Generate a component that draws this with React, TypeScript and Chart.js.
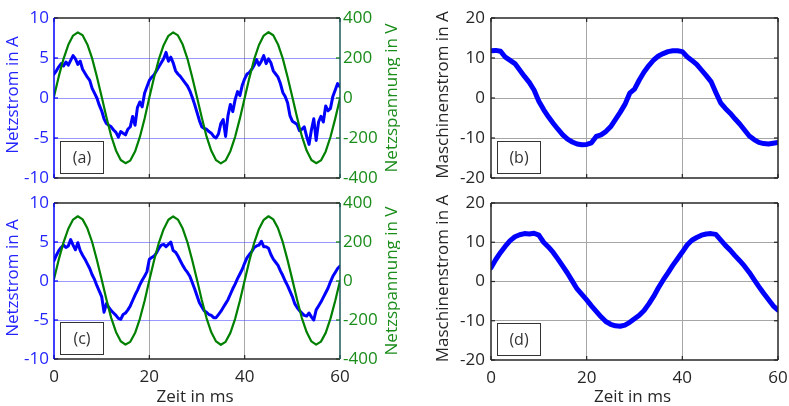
import React, { useEffect, useRef } from "react";
import { Chart, registerables } from "chart.js";

Chart.register(...registerables);

const FONT = "'Open Sans', 'Noto Sans', sans-serif";

// ---------- data ----------
const TIME_MIN = 0;
const TIME_MAX = 60;
const TIME_TICK_STEP = 20;
const FINE_STEP_MS = 0.5; // sampling of the Netzstrom traces
const COARSE_STEP_MS = 1; // sampling of voltage / Maschinenstrom traces

const NETZSTROM_TICK_STEP = 5;
const NETZSPANNUNG_TICK_STEP = 200;
const MASCHINENSTROM_TICK_STEP = 10;

// (a) Netzstrom in A, every 0.5 ms
const netzstromA = [
  3.0, 3.4, 3.9, 4.3, 4.0, 4.5, 4.1, 4.7, 5.3, 4.9,
  4.2, 4.6, 3.6, 3.1, 2.6, 2.2, 1.2, 0.6, 0.0, -0.9,
  -1.6, -2.6, -3.2, -3.4, -3.6, -4.0, -4.3, -4.9, -4.2, -4.4,
  -4.6, -3.9, -3.6, -2.3, -3.4, -1.2, -0.5, -1.1, 0.6, 1.4,
  2.2, 2.6, 2.9, 3.4, 3.9, 4.4, 4.9, 5.7, 4.6, 5.1,
  4.4, 3.4, 3.0, 2.7, 2.3, 1.9, 1.5, 0.9, 0.1, -0.8,
  -1.8, -2.8, -3.6, -3.8, -3.9, -4.2, -4.4, -4.8, -5.0, -4.5,
  -3.2, -2.7, -4.8, -2.2, -0.8, -1.7, -0.2, 0.8, 0.3, 1.6,
  2.4, 3.0, 3.2, 3.6, 4.1, 4.8, 4.1, 4.6, 5.3, 4.3,
  4.9, 4.4, 3.4, 3.0, 2.6, 1.8, 0.7, 0.2, -0.6, -2.2,
  -2.9, -3.1, -3.3, -4.1, -3.9, -3.6, -4.8, -5.8, -4.0, -2.6,
  -5.3, -3.0, -2.3, -3.0, -1.0, -1.6, -1.3, 0.2, 1.0, 1.8,
  1.4,
];

// (a) Netzspannung in V, every 1 ms
const netzspannungA = [
  8, 108, 196, 266, 312, 328, 314, 268, 198, 106,
  6, -96, -190, -262, -310, -326, -313, -268, -196, -104,
  2, 104, 194, 264, 311, 328, 313, 267, 196, 104,
  4, -98, -192, -264, -311, -327, -312, -266, -194, -102,
  0, 102, 194, 265, 312, 329, 314, 268, 197, 105,
  5, -97, -191, -263, -310, -326, -312, -267, -195, -103,
  -2,
];

// (c) Netzstrom in A, every 0.5 ms
const netzstromC = [
  2.6, 3.3, 3.9, 4.3, 4.6, 4.3, 4.5, 5.3, 4.6, 4.0,
  4.9, 3.9, 3.3, 2.8, 2.2, 1.6, 0.8, 0.2, -0.6, -1.3,
  -2.0, -4.0, -2.9, -3.4, -3.8, -4.1, -4.4, -4.8, -4.9, -4.3,
  -4.1, -3.7, -3.2, -2.5, -1.8, -1.2, -0.5, 0.1, 0.6, 1.2,
  2.8, 3.0, 3.2, 3.6, 4.2, 4.6, 4.7, 4.4, 4.7, 5.0,
  3.9, 3.7, 3.2, 2.6, 2.0, 1.5, 1.1, 0.6, -0.2, -1.0,
  -1.9, -2.8, -3.3, -3.8, -4.0, -4.3, -4.4, -4.7, -4.7, -4.3,
  -3.9, -3.4, -2.9, -2.4, -1.7, -1.0, -0.4, 0.3, 0.9, 1.5,
  2.3, 3.0, 3.4, 3.8, 4.3, 4.5, 4.6, 5.1, 4.4, 4.4,
  4.2, 3.4, 2.8, 2.4, 2.0, 1.3, 0.7, 0.0, -0.6, -1.3,
  -2.0, -2.9, -3.4, -3.8, -4.1, -4.4, -4.5, -4.1, -4.6, -5.0,
  -3.7, -3.2, -2.7, -2.1, -1.5, -0.9, -0.1, 0.6, 1.1, 1.6,
  1.9,
];

// (c) Netzspannung in V, every 1 ms
const netzspannungC = [
  10, 110, 198, 268, 315, 332, 316, 270, 200, 108,
  8, -95, -189, -261, -309, -326, -312, -267, -195, -103,
  4, 106, 196, 266, 314, 331, 315, 269, 198, 106,
  6, -97, -190, -263, -310, -327, -312, -266, -194, -101,
  3, 105, 196, 267, 314, 332, 316, 270, 199, 107,
  7, -96, -190, -262, -310, -326, -311, -266, -193, -101,
  0,
];

// (b) Maschinenstrom in A, every 1 ms
const maschinenstromB = [
  11.8, 11.9, 11.7, 10.2, 9.4, 8.6, 7.0, 5.4, 3.9, 2.0,
  -0.8, -2.9, -4.7, -6.3, -7.8, -9.2, -10.3, -11.0, -11.5, -11.7,
  -11.6, -11.2, -9.6, -9.2, -8.4, -7.2, -5.4, -3.6, -1.6, 1.2,
  2.2, 4.5, 6.5, 8.1, 9.5, 10.5, 11.1, 11.6, 11.8, 11.8,
  11.6, 10.3, 9.4, 8.4, 7.0, 5.6, 4.1, 1.4, -1.2, -2.6,
  -3.8, -5.2, -6.5, -8.0, -9.5, -10.4, -11.1, -11.4, -11.5, -11.3,
  -11.1,
];

// (d) Maschinenstrom in A, every 1 ms
const maschinenstromD = [
  3.5, 5.6, 7.4, 9.0, 10.4, 11.4, 11.9, 12.2, 12.1, 12.3,
  11.8, 10.0, 8.8, 7.4, 5.7, 3.9, 2.1, 0.1, -1.9, -3.3,
  -4.7, -6.2, -7.6, -9.0, -10.2, -10.9, -11.3, -11.4, -11.1, -10.4,
  -9.5, -8.6, -7.4, -5.7, -3.8, -1.6, 0.4, 2.2, 4.1, 5.8,
  7.5, 9.3, 10.5, 11.2, 11.8, 12.1, 12.2, 12.0, 10.6, 9.2,
  8.0, 6.6, 5.3, 3.9, 2.3, 0.5, -1.3, -3.0, -4.6, -6.2,
  -7.3,
];

// ---------- styles ----------
const BLUE = "#0000ff";
const BLUE_TEXT = "#2424ff";
const GREEN = "#008000";
const GREEN_TEXT = "#1a8c1a";
const DARK = "#262626";
const TEAL = "#1d5858";

function toPoints(values: number[], step: number) {
  return values.map((v, i) => ({ x: i * step, y: v }));
}

type PanelCfg = {
  id: string;
  left: number;
  top: number;
  width: number;
  height: number;
  area: { L: number; R: number; T: number; B: number };
  tag: string;
  showX: boolean;
  yMin: number;
  yMax: number;
  yStep: number;
  yColor: string;
  yTextColor: string;
  yTitle: string;
  yTitleX: number;
  yLabelPad: number;
  gridY: string;
  gridX: string;
  right?: { min: number; max: number; step: number; title: string; titleX: number };
  datasets: any[];
};

const PANELS: PanelCfg[] = [
  {
    id: "a",
    left: 0,
    top: 0,
    width: 400,
    height: 190,
    area: { L: 54, R: 340, T: 18, B: 178 },
    tag: "(a)",
    showX: false,
    yMin: -10,
    yMax: 10,
    yStep: NETZSTROM_TICK_STEP,
    yColor: BLUE,
    yTextColor: BLUE_TEXT,
    yTitle: "Netzstrom in A",
    yTitleX: 13,
    yLabelPad: 5,
    gridY: "rgba(70,70,255,0.55)",
    gridX: "#a8a8a8",
    right: { min: -400, max: 400, step: NETZSPANNUNG_TICK_STEP, title: "Netzspannung in V", titleX: 392 },
    datasets: [
      { data: toPoints(netzstromA, FINE_STEP_MS), borderColor: BLUE, borderWidth: 3, yAxisID: "y", order: 1 },
      { data: toPoints(netzspannungA, COARSE_STEP_MS), borderColor: GREEN, borderWidth: 2.2, yAxisID: "y1", order: 0 },
    ],
  },
  {
    id: "b",
    left: 400,
    top: 0,
    width: 389,
    height: 190,
    area: { L: 91, R: 378, T: 18, B: 178 },
    tag: "(b)",
    showX: false,
    yMin: -20,
    yMax: 20,
    yStep: MASCHINENSTROM_TICK_STEP,
    yColor: DARK,
    yTextColor: DARK,
    yTitle: "Maschinenstrom in A",
    yTitleX: 43,
    yLabelPad: 6,
    gridY: "#a6a6a6",
    gridX: "#a6a6a6",
    datasets: [
      { data: toPoints(maschinenstromB, COARSE_STEP_MS), borderColor: BLUE, borderWidth: 5, yAxisID: "y", order: 0 },
    ],
  },
  {
    id: "c",
    left: 0,
    top: 190,
    width: 400,
    height: 216,
    area: { L: 54, R: 340, T: 13, B: 169 },
    tag: "(c)",
    showX: true,
    yMin: -10,
    yMax: 10,
    yStep: NETZSTROM_TICK_STEP,
    yColor: BLUE,
    yTextColor: BLUE_TEXT,
    yTitle: "Netzstrom in A",
    yTitleX: 13,
    yLabelPad: 5,
    gridY: "rgba(70,70,255,0.55)",
    gridX: "#a8a8a8",
    right: { min: -400, max: 400, step: NETZSPANNUNG_TICK_STEP, title: "Netzspannung in V", titleX: 392 },
    datasets: [
      { data: toPoints(netzstromC, FINE_STEP_MS), borderColor: BLUE, borderWidth: 3, yAxisID: "y", order: 1 },
      { data: toPoints(netzspannungC, COARSE_STEP_MS), borderColor: GREEN, borderWidth: 2.2, yAxisID: "y1", order: 0 },
    ],
  },
  {
    id: "d",
    left: 400,
    top: 190,
    width: 389,
    height: 216,
    area: { L: 91, R: 378, T: 13, B: 170 },
    tag: "(d)",
    showX: true,
    yMin: -20,
    yMax: 20,
    yStep: MASCHINENSTROM_TICK_STEP,
    yColor: DARK,
    yTextColor: DARK,
    yTitle: "Maschinenstrom in A",
    yTitleX: 43,
    yLabelPad: 6,
    gridY: "#a6a6a6",
    gridX: "#a6a6a6",
    datasets: [
      { data: toPoints(maschinenstromD, COARSE_STEP_MS), borderColor: BLUE, borderWidth: 5, yAxisID: "y", order: 0 },
    ],
  },
];

function makeAxesPlugin(p: PanelCfg) {
  return {
    id: "matlabAxes" + p.id,
    afterDraw(chart: any) {
      const ctx: CanvasRenderingContext2D = chart.ctx;
      const { left, right, top, bottom } = chart.chartArea;
      const xs = chart.scales.x;
      const ys = chart.scales.y;
      const y1 = chart.scales.y1;
      ctx.save();

      // tag box
      const bx = Math.round(left) + 6;
      const by = Math.round(bottom) - 37;
      const bw = 43;
      const bh = 32;
      ctx.fillStyle = "#ffffff";
      ctx.fillRect(bx, by, bw, bh);
      ctx.strokeStyle = "#333333";
      ctx.lineWidth = 1;
      ctx.strokeRect(bx + 0.5, by + 0.5, bw, bh);
      ctx.fillStyle = "#333333";
      ctx.font = `16px ${FONT}`;
      ctx.textAlign = "center";
      ctx.textBaseline = "middle";
      ctx.fillText(p.tag, bx + bw / 2 + 0.5, by + bh / 2 + 1);

      const seg = (x1: number, yA: number, x2: number, yB: number, color: string, w: number) => {
        ctx.beginPath();
        ctx.strokeStyle = color;
        ctx.lineWidth = w;
        ctx.moveTo(x1, yA);
        ctx.lineTo(x2, yB);
        ctx.stroke();
      };

      const TL = 4;
      // ticks on x (top and bottom)
      xs.ticks.forEach((t: any) => {
        const px = xs.getPixelForValue(t.value);
        seg(px, top, px, top + TL, DARK, 1.2);
        seg(px, bottom, px, bottom - TL, DARK, 1.2);
      });
      // left ticks
      ys.ticks.forEach((t: any) => {
        const py = ys.getPixelForValue(t.value);
        seg(left, py, left + TL, py, p.yColor, 1.2);
        if (!y1) seg(right, py, right - TL, py, p.yColor, 1.2);
      });
      if (y1) {
        y1.ticks.forEach((t: any) => {
          const py = y1.getPixelForValue(t.value);
          seg(right, py, right - TL, py, GREEN, 1.2);
        });
      }

      // box
      seg(left, top, right, top, DARK, 1.5);
      seg(left, bottom, right, bottom, DARK, 1.5);
      seg(left, top, left, bottom, p.yColor, 1.5);
      seg(right, top, right, bottom, y1 ? TEAL : DARK, 1.5);

      // titles
      const mid = (top + bottom) / 2;
      ctx.font = `17px ${FONT}`;
      ctx.textAlign = "center";
      ctx.textBaseline = "middle";
      const vText = (text: string, x: number, y: number, color: string) => {
        ctx.save();
        ctx.translate(x, y);
        ctx.rotate(-Math.PI / 2);
        ctx.fillStyle = color;
        ctx.fillText(text, 0, 0);
        ctx.restore();
      };
      vText(p.yTitle, p.yTitleX, mid - 3, p.yTextColor);
      if (p.right) vText(p.right.title, p.right.titleX, mid, GREEN_TEXT);
      if (p.showX) {
        ctx.fillStyle = DARK;
        ctx.fillText("Zeit in ms", (left + right) / 2 - 2, chart.height - 8.5);
      }
      ctx.restore();
    },
  };
}

function buildConfig(p: PanelCfg): any {
  const tickFont = { family: FONT, size: 17 };
  const scales: any = {
    x: {
      type: "linear",
      min: TIME_MIN,
      max: TIME_MAX,
      ticks: {
        display: p.showX,
        stepSize: TIME_TICK_STEP,
        padding: 8,
        color: DARK,
        font: tickFont,
        maxRotation: 0,
        autoSkip: false,
      },
      grid: {
        color: (c: any) =>
          c.tick && (c.tick.value === TIME_MIN || c.tick.value === TIME_MAX) ? "rgba(0,0,0,0)" : p.gridX,
        lineWidth: 1,
        drawTicks: false,
      },
      border: { display: false },
      afterFit: (s: any) => {
        s.height = p.height - p.area.B;
        s.paddingLeft = 0;
        s.paddingRight = 0;
      },
    },
    y: {
      type: "linear",
      position: "left",
      min: p.yMin,
      max: p.yMax,
      ticks: { stepSize: p.yStep, padding: p.yLabelPad, color: p.yTextColor, font: tickFont },
      grid: {
        color: (c: any) =>
          c.tick && (c.tick.value === p.yMin || c.tick.value === p.yMax) ? "rgba(0,0,0,0)" : p.gridY,
        lineWidth: 1,
        drawTicks: false,
      },
      border: { display: false },
      afterFit: (s: any) => {
        s.width = p.area.L;
        s.paddingTop = 0;
        s.paddingBottom = 0;
      },
    },
  };
  if (p.right) {
    scales.y1 = {
      type: "linear",
      position: "right",
      min: p.right.min,
      max: p.right.max,
      ticks: { stepSize: p.right.step, padding: 3, color: GREEN_TEXT, font: tickFont },
      grid: { drawOnChartArea: false, drawTicks: false },
      border: { display: false },
      afterFit: (s: any) => {
        s.width = p.width - p.area.R;
        s.paddingTop = 0;
        s.paddingBottom = 0;
      },
    };
  }
  return {
    type: "line",
    data: {
      datasets: p.datasets.map((d) => ({
        ...d,
        pointRadius: 0,
        fill: false,
        tension: 0,
        borderJoinStyle: "round",
        borderCapStyle: "round",
      })),
    },
    options: {
      responsive: false,
      maintainAspectRatio: false,
      animation: false,
      devicePixelRatio: 1,
      events: [],
      layout: {
        padding: { left: 0, top: p.area.T, right: p.right ? 0 : p.width - p.area.R, bottom: 0 },
      },
      plugins: { legend: { display: false }, tooltip: { enabled: false }, title: { display: false } },
      scales,
    },
    plugins: [makeAxesPlugin(p)],
  };
}

function Panel({ cfg }: { cfg: PanelCfg }) {
  const ref = useRef<HTMLCanvasElement>(null);
  useEffect(() => {
    if (!ref.current) return;
    const chart = new Chart(ref.current, buildConfig(cfg));
    return () => chart.destroy();
  }, [cfg]);
  return (
    <canvas
      ref={ref}
      width={cfg.width}
      height={cfg.height}
      style={{ position: "absolute", left: cfg.left, top: cfg.top, width: cfg.width, height: cfg.height }}
    />
  );
}

export default function App() {
  return (
    <div style={{ position: "absolute", left: 0, top: 0, width: 789, height: 406, background: "#ffffff", overflow: "hidden" }}>
      {PANELS.map((p) => (
        <Panel key={p.id} cfg={p} />
      ))}
    </div>
  );
}
